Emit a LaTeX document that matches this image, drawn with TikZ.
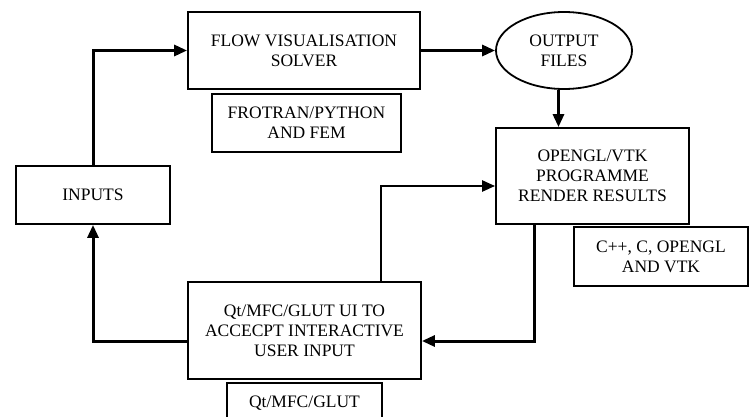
\documentclass[tikz,border=0pt]{standalone}
\usepackage{fontspec}
\setmainfont{Liberation Serif}
\usetikzlibrary{arrows.meta,shapes.geometric,calc}
\begin{document}
\begin{tikzpicture}[x=1pt,y=-1pt,
  every node/.style={font=\fontsize{17.5}{20}\selectfont, align=center, inner sep=0pt},
  boxnode/.style={draw, line width=1.8pt, rectangle},
  arr/.style={line width=3pt, -{Triangle[length=13pt,width=11pt]}},
  thinarr/.style={line width=2.3pt, -{Triangle[length=13pt,width=11pt]}}]
\useasboundingbox[fill=white] (0,0) rectangle (754,417);
\node[boxnode, minimum width=232pt, minimum height=77pt] (flow) at (304,50.5) {FLOW VISUALISATION\\SOLVER};
\node[boxnode, minimum width=189pt, minimum height=58pt] (frotran) at (306.5,123) {FROTRAN/PYTHON\\AND FEM};
\node[boxnode, minimum width=154pt, minimum height=58pt] (inputs) at (93,195) {INPUTS};
\node[draw, line width=1.8pt, ellipse, minimum width=136pt, minimum height=77pt] (output) at (564,50.5) {OUTPUT\\FILES};
\node[boxnode, minimum width=193pt, minimum height=96pt] (opengl) at (592.5,176) {OPENGL/VTK\\PROGRAMME\\RENDER RESULTS};
\node[boxnode, minimum width=174pt, minimum height=59pt] (cpp) at (661,256.5) {C++, C, OPENGL\\AND VTK};
\node[boxnode, minimum width=233pt, minimum height=97pt] (qt) at (304.5,330.5) {Qt/MFC/GLUT UI TO\\ACCECPT INTERACTIVE\\USER INPUT};
\node[boxnode, minimum width=155pt, minimum height=60pt, anchor=north] (qtsmall) at (304.5,382) {};
\node[anchor=base] (qtsmalltext) at (304.5,407) {Qt/MFC/GLUT};
\coordinate (c1) at (534,341);
\coordinate (c2) at (381,186);
\draw[arr] (inputs.north) |- (flow.west);
\draw[arr] (flow.east) -- (output.west);
\draw[arr] (output.262) -- (output.262 |- opengl.north);
\draw[arr] (opengl.south -| c1) |- (qt.east |- c1);
\draw[arr] (qt.west |- c1) -| (inputs.south);
\draw[thinarr] (qt.north -| c2) |- (opengl.west |- c2);
\end{tikzpicture}
\end{document}
